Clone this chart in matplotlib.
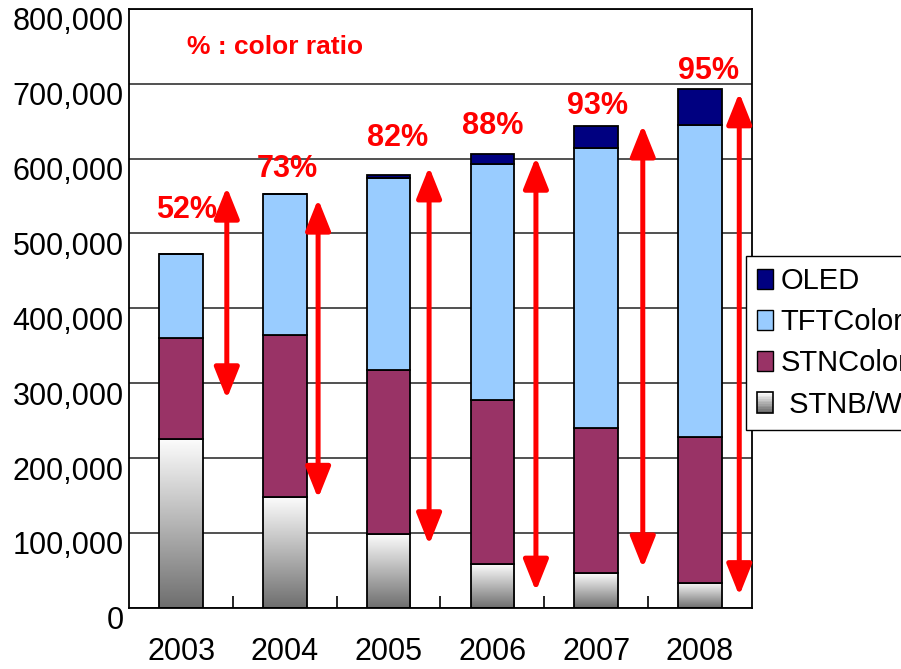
import numpy as np
import matplotlib
matplotlib.use("Agg")
import matplotlib.pyplot as plt
import matplotlib.transforms as mtransforms
from matplotlib.colors import LinearSegmentedColormap
from matplotlib.patches import Rectangle, Patch
from matplotlib.legend_handler import HandlerBase

plt.rcParams['font.family'] = ['Liberation Sans', 'DejaVu Sans']

years = ['2003', '2004', '2005', '2006', '2007', '2008']
stn_bw = [225000, 148000, 98500, 58500, 46000, 33500]
stn_color = [136000, 216000, 219000, 219000, 194500, 194500]
tft_color = [111500, 188500, 256000, 315000, 373500, 417000]
oled = [0, 0, 4500, 13500, 29000, 47500]

ratio_labels = ['52%', '73%', '82%', '88%', '93%', '95%']
ratio_pos = [(0.05, 531000), (1.02, 586000), (2.09, 628000),
             (3.00, 644000), (4.01, 670000), (5.08, 717000)]
# double arrows: x, top tip, bottom tip
arrow_x = [0.44, 1.32, 2.39, 3.42, 4.45, 5.38]
arrow_top = [562000, 546000, 589000, 602000, 645000, 688000]
arrow_bot = [279000, 146000, 84000, 22000, 53000, 16000]

yticks = [0, 100000, 200000, 300000, 400000, 500000, 600000, 700000, 800000]
ytick_labels = ['0', '100,000', '200,000', '300,000', '400,000',
                '500,000', '600,000', '700,000', '800,000']

c_oled = '#000080'
c_tft = '#99CCFF'
c_stn = '#993366'
bw_cmap = LinearSegmentedColormap.from_list('bw', ['#6e6e6e', '#fcfcfc'])


class GradHandler(HandlerBase):
    def create_artists(self, legend, orig, xd, yd, w, h, fs, trans):
        arts = []
        k = 12
        for j in range(k):
            arts.append(Rectangle((-xd, -yd + h * j / k), w, h / k + 0.3,
                                  fc=bw_cmap(j / (k - 1)), ec='none', transform=trans))
        arts.append(Rectangle((-xd, -yd), w, h, fc='none', ec='black', lw=1.2, transform=trans))
        return arts


fig = plt.figure(figsize=(9.01, 6.69), dpi=100)
ax = fig.add_axes([0.1435, 0.0916, 0.6908, 0.8951])

x = np.arange(len(years))
w = 0.42
ekw = dict(edgecolor='black', linewidth=1.3, zorder=3)

b0 = np.zeros(len(years))
bw_bars = ax.bar(x, stn_bw, w, bottom=b0, facecolor='none', **ekw)
for bar in bw_bars:
    x0, y0 = bar.get_x(), bar.get_y()
    grad = np.linspace(0, 1, 256).reshape(-1, 1)
    ax.imshow(grad, extent=[x0, x0 + bar.get_width(), y0, y0 + bar.get_height()],
              aspect='auto', cmap=bw_cmap, origin='lower', zorder=2.5)
b1 = b0 + np.array(stn_bw)
ax.bar(x, stn_color, w, bottom=b1, facecolor=c_stn, **ekw)
b2 = b1 + np.array(stn_color)
ax.bar(x, tft_color, w, bottom=b2, facecolor=c_tft, **ekw)
b3 = b2 + np.array(tft_color)
ax.bar(x, oled, w, bottom=b3, facecolor=c_oled, **ekw)

for xa, t, b in zip(arrow_x, arrow_top, arrow_bot):
    ax.annotate('', xy=(xa, t), xytext=(xa, b),
                arrowprops=dict(arrowstyle='<|-|>,head_length=0.95,head_width=0.38',
                                color='red', lw=3.6, mutation_scale=20,
                                shrinkA=0, shrinkB=0), zorder=4)

for lab, (px, py) in zip(ratio_labels, ratio_pos):
    ax.text(px, py, lab, color='red', fontsize=22, fontweight='bold',
            ha='center', va='center', zorder=5)

ax.text(0.234, 0.937, '% : color ratio', color='red', fontsize=19, fontweight='bold',
        ha='center', va='center', transform=ax.transAxes)

ax.set_xlim(-0.5, 5.5)
ax.set_ylim(0, 800000)
ax.set_yticks(yticks)
ax.set_yticklabels(ytick_labels, fontsize=22)
ax.tick_params(axis='y', length=0, pad=4)
off = mtransforms.ScaledTranslation(0, -10 / 100, fig.dpi_scale_trans)
for lab in ax.get_yticklabels():
    lab.set_transform(lab.get_transform() + off)

ax.set_xticks(np.arange(0.5, 5.5, 1.0))
ax.set_xticklabels([])
ax.tick_params(axis='x', which='major', direction='in', length=8.5, width=1.2)
ax.set_xticks(x, minor=True)
ax.set_xticklabels(years, minor=True, fontsize=22)
ax.tick_params(axis='x', which='minor', length=0, pad=21)

ax.yaxis.grid(True, color='#222222', linewidth=1.1, zorder=0)
ax.set_axisbelow(True)
for s in ax.spines.values():
    s.set_linewidth(1.3)

handles = [Patch(facecolor=c_oled, edgecolor='black'),
           Patch(facecolor=c_tft, edgecolor='black'),
           Patch(facecolor=c_stn, edgecolor='black'),
           Patch(facecolor='#bbbbbb', edgecolor='black')]
labels = ['OLED', 'TFTColor', 'STNColor', ' STNB/W']
leg = fig.legend(handles, labels, loc='upper left', bbox_to_anchor=(0.8277, 0.6180),
                 fontsize=21, frameon=True, fancybox=False, framealpha=1,
                 edgecolor='black', handlelength=0.55, handleheight=0.7,
                 handletextpad=0.25, labelspacing=0.45, borderpad=0.4,
                 borderaxespad=0, handler_map={handles[3]: GradHandler()})
leg.get_frame().set_linewidth(1.0)

fig.savefig('out.png', dpi=100)
